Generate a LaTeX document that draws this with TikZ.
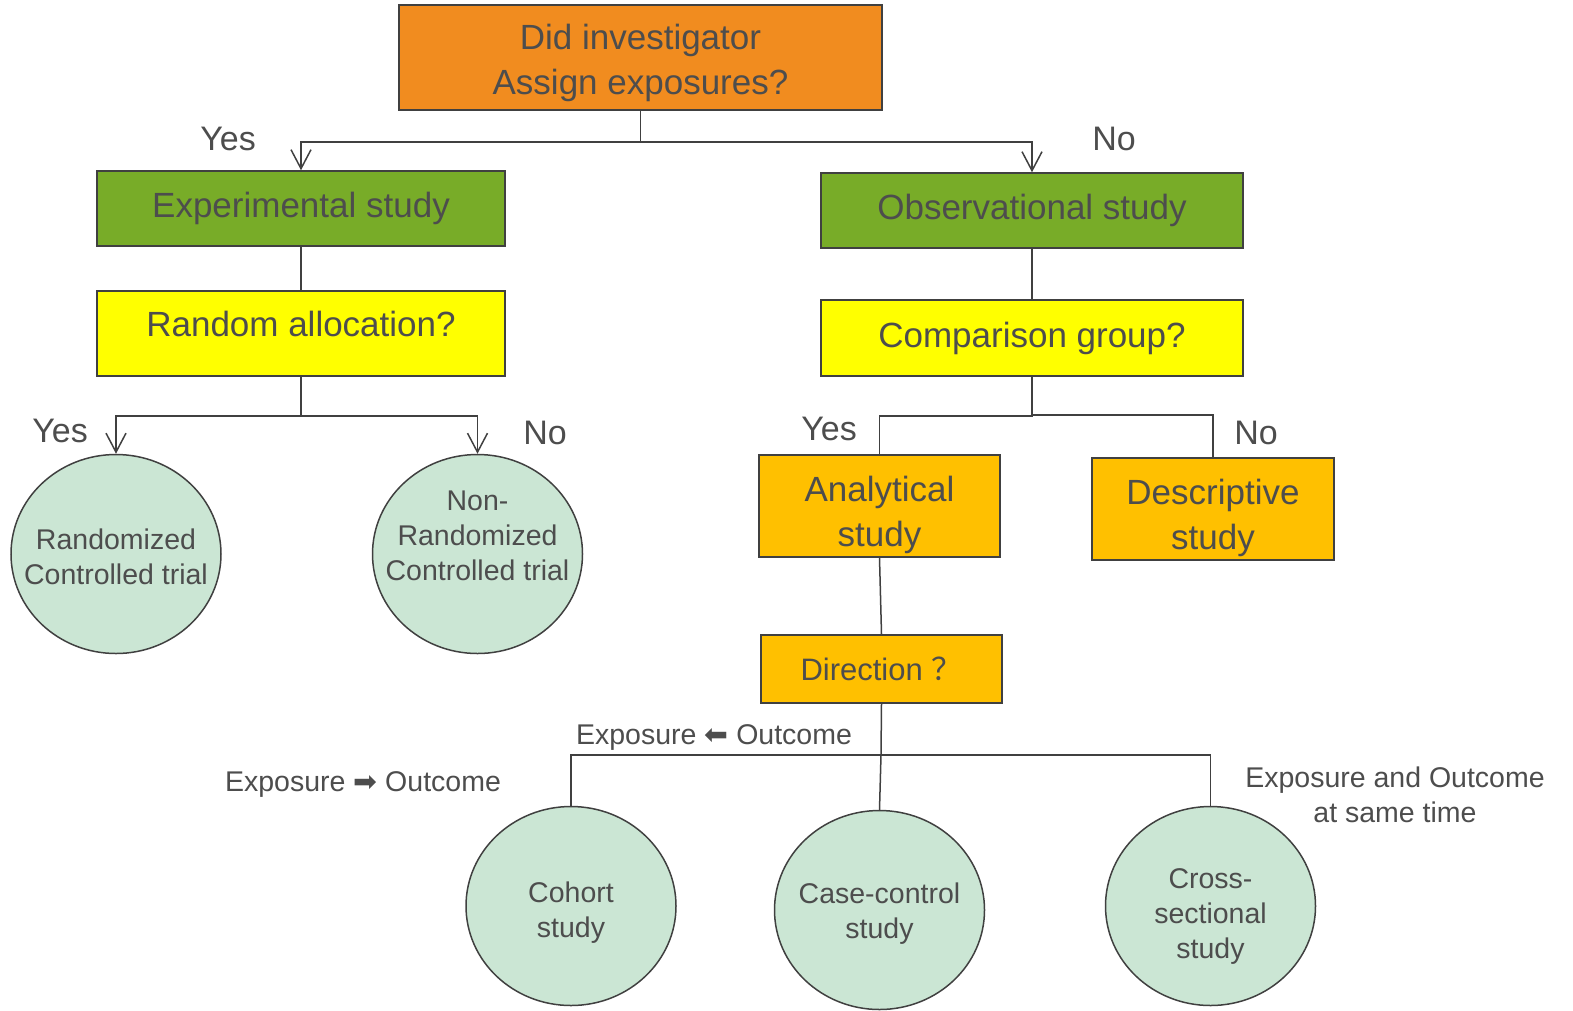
\documentclass[tikz,border=0pt]{standalone}
\usepackage{fontspec}
\setmainfont{Liberation Sans}
\newfontfamily\symfont{DejaVu Sans}
\newfontfamily\cjk{Noto Sans CJK SC}
\usetikzlibrary{arrows.meta}
\usetikzlibrary{shapes.geometric}

\definecolor{txtgray}{HTML}{4D4D4D}
\definecolor{linegray}{HTML}{404040}
\definecolor{topor}{HTML}{F18C1F}
\definecolor{expgreen}{HTML}{78AC28}
\definecolor{qyellow}{HTML}{FFFF00}
\definecolor{amber}{HTML}{FFC000}
\definecolor{mint}{HTML}{CBE6D4}

\tikzset{
  box/.style={draw=linegray, line width=1.5pt, text=txtgray, align=center, inner sep=0pt,
    font=\fontsize{35}{45}\selectfont},
  blob/.style={ellipse, draw=linegray, line width=1.5pt, fill=mint, text=txtgray, align=center,
    inner sep=-45pt, minimum width=210pt, minimum height=199pt, font=\fontsize{28.5}{35}\selectfont},
  ans/.style={text=txtgray, font=\fontsize{34}{40}\selectfont},
  note/.style={text=txtgray, align=center, font=\fontsize{28.5}{35}\selectfont},
  link/.style={draw=linegray, line width=1.5pt},
  tip/.style={link, -{Straight Barb[length=19pt, width=20pt, line width=1.5pt]}}
}

\begin{document}
\begin{tikzpicture}[x=1pt, y=-1pt]
      \useasboundingbox (0,0) rectangle (1573,1010);

      % question boxes
      \node[box, fill=topor, minimum width=483pt, minimum height=105pt, text height=82pt] (top) at (640.5,57.5) {Did investigator\\Assign exposures?};
      \node[box, fill=expgreen, minimum width=408pt, minimum height=75pt] (exp) at (301,208.5) {Experimental study};
      \node[box, fill=expgreen, minimum width=422pt, minimum height=75pt] (obs) at (1032,210.5) {Observational study};
      \node[box, fill=qyellow, minimum width=408pt, minimum height=85pt, text depth=20pt] (rand) at (301,333.5) {Random allocation?};
      \node[box, fill=qyellow, minimum width=422pt, minimum height=76pt] (comp) at (1032,338) {Comparison group?};
      \node[box, fill=amber, minimum width=241pt, minimum height=102pt, text height=88pt] (ana) at (879.5,506) {Analytical\\study};
      \node[box, fill=amber, minimum width=242pt, minimum height=102pt, text height=88pt] (desc) at (1213,509) {Descriptive\\study};
      \node[box, fill=amber, minimum width=241pt, minimum height=68pt, font=\fontsize{31}{37}\selectfont] (dir) at (881.5,669) {Direction {\cjk ？}};

      % study types
      \node[blob, text height=62pt] (rct) at (116,554) {Randomized\\Controlled trial};
      \node[blob, text depth=37pt] (nrct) at (477.5,554) {Non-\\Randomized\\Controlled trial};
      \node[blob, text height=68pt] (coh) at (571,906) {Cohort\\study};
      \node[blob, text height=62pt] (cc) at (879.5,910) {Case-control\\study};
      \node[blob, text height=110pt] (cs) at (1210.5,906) {Cross-\\sectional\\study};

      % answers
      \node[ans] (yesA) at (228,139) {Yes};
      \node[ans] (noA) at (1114,139) {No};
      \node[ans] (yesB) at (60,431) {Yes};
      \node[ans] (noB) at (545,433) {No};
      \node[ans] (yesC) at (829,429) {Yes};
      \node[ans] (noC) at (1256,433) {No};
      \node[note] (fwd) at (363,784) {Exposure {\symfont ➡} Outcome};
      \node[note] (bwd) at (714,737) {Exposure {\symfont ⬅} Outcome};
      \node[note] (same) at (1395,795) {Exposure and Outcome\\at same time};

      % connectors
      \draw[tip] (top.south) -- ++(0,31) -| (exp.north);
      \draw[tip] (top.south) -- ++(0,31) -| (obs.north);
      \draw[link] (exp) -- (rand);
      \draw[link] (obs) -- (comp);
      \draw[tip] (rand.south) -- ++(0,39) -| (rct.north);
      \draw[tip] (rand.south) -- ++(0,39) -| (nrct.north);
      \draw[link] (comp.south) -- ++(0,39) -| (ana.north);
      \draw[link] (comp.south) -- ++(0,38) -| (desc.north);
      \draw[link] (ana.south) -- (dir.north);
      \coordinate (fork) at (881,755);
      \draw[link] (dir.south) -- (fork) -- (cc.north);
      \draw[link] (coh.north) |- (fork) -| (cs.north);
    \end{tikzpicture}
\end{document}
